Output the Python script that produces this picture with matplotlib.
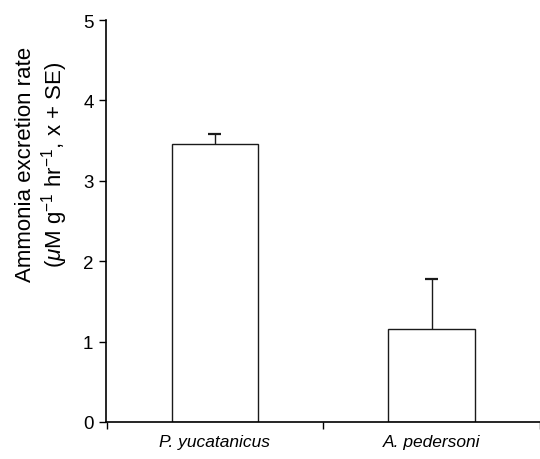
import matplotlib
matplotlib.use("Agg")
import matplotlib.pyplot as plt

# Data
species = ["P. yucatanicus", "A. pedersoni"]
rates = [3.46, 1.16]
se = [0.12, 0.62]

plt.rcParams['font.family'] = ['Liberation Sans', 'DejaVu Sans']
plt.rcParams['mathtext.fontset'] = 'custom'
plt.rcParams['mathtext.rm'] = 'Liberation Sans'
plt.rcParams['mathtext.it'] = 'Liberation Sans:italic'

fig = plt.figure(figsize=(5.4, 4.6), dpi=100)
ax = fig.add_axes([106 / 540, 1 - 423 / 460, 434 / 540, (423 - 21) / 460])

x = list(range(len(species)))
ax.bar(x, rates, width=0.4, color="white", edgecolor="#1a1a1a", linewidth=1.0, zorder=2)

# upper-only error bars with a short cap
tops = [r + e for r, e in zip(rates, se)]
ax.vlines(x, rates, tops, color="#1a1a1a", linewidth=1.0, zorder=1)
ax.hlines(tops, [i - 0.03 for i in x], [i + 0.03 for i in x], color="#1a1a1a", linewidth=1.6, zorder=1)

ax.set_xlim(-0.503, 1.483)
ax.set_ylim(0, 5)
ax.set_yticks([0, 1, 2, 3, 4, 5])
ax.tick_params(axis="y", direction="out", length=5, width=1, labelsize=13.5, pad=4)

ax.set_xticks(x)
ax.set_xticklabels(species, fontstyle="italic", fontsize=12.5)
ax.tick_params(axis="x", which="major", length=0, pad=9)
ax.set_xticks([-0.5, 0.5, 1.5], minor=True)
ax.tick_params(axis="x", which="minor", direction="out", length=5, width=1)

for side in ["top", "right"]:
    ax.spines[side].set_visible(False)
ax.spines["left"].set_linewidth(1.2)
ax.spines["bottom"].set_linewidth(1.2)

ax.set_ylabel("Ammonia excretion rate\n($\\mathit{\\mu}$M g$^{-1}$ hr$^{-1}$, x + SE)",
              fontsize=16, linespacing=1.12, va="center")
ax.yaxis.set_label_coords(-0.146, 0.642)

fig.savefig("out.png", dpi=100)
